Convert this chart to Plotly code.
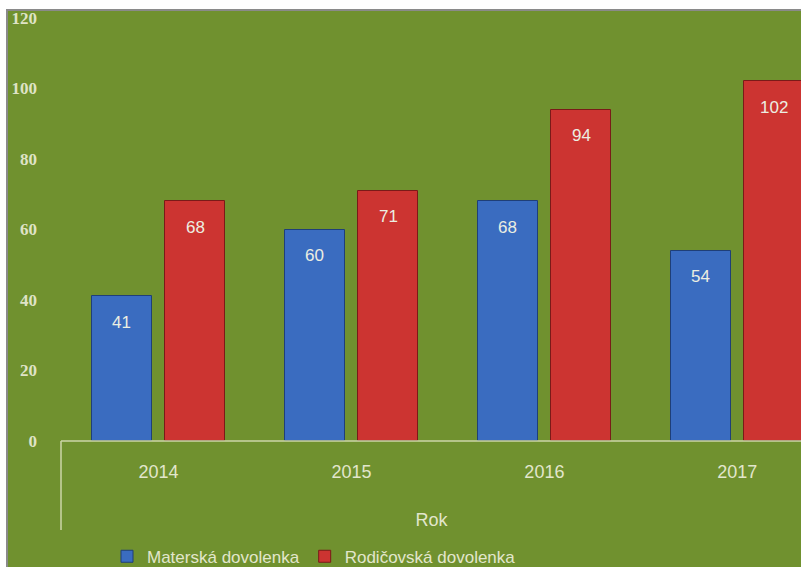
import plotly.graph_objects as go

years = ["2014", "2015", "2016", "2017"]
materska = [41, 60, 68, 54]
rodicovska = [68, 71, 94, 102]
series_names = ["Materská dovolenka", "Rodičovská dovolenka"]
y_ticks = [0, 20, 40, 60, 80, 100, 120]

GREEN = "#70912f"
BLUE = "#3a6cc0"
RED = "#cc3431"
PALE = "#e2e6cc"
SANS = "Liberation Sans, Arial, sans-serif"

fig = go.Figure()
fig.add_trace(go.Bar(
    x=years, y=materska, name=series_names[0],
    width=0.31, offset=-0.345,
    marker=dict(color=BLUE, line=dict(color="#1f3f78", width=1)),
    hoverinfo="x+y",
))
fig.add_trace(go.Bar(
    x=years, y=rodicovska, name=series_names[1],
    width=0.31, offset=0.035,
    marker=dict(color=RED, line=dict(color="#7a1a18", width=1)),
    hoverinfo="x+y",
))

annotations = []
for vals, shift in ((materska, -37), (rodicovska, 37)):
    for i, v in enumerate(vals):
        annotations.append(dict(
            x=i, y=v, xref="x", yref="y", text=str(v), showarrow=False,
            xshift=shift, yshift=-26,
            font=dict(family=SANS, size=17, color="#eceee2"),
        ))

shapes = [
    dict(type="rect", xref="paper", yref="paper",
         x0=-55/739, x1=1.01, y0=-0.4, y1=1 + 8/423,
         fillcolor=GREEN, line=dict(color="#8a8a8a", width=2), layer="below"),
    dict(type="line", xref="paper", yref="paper",
         x0=-1/739, x1=-1/739, y0=0, y1=-89/423,
         line=dict(color="#cdd6a8", width=1.5)),
    dict(type="line", xref="paper", yref="paper",
         x0=-1/739, x1=1, y0=0, y1=0,
         line=dict(color="#cdd6a8", width=1.5)),
]

fig.update_layout(
    width=801, height=567,
    margin=dict(l=62, r=0, t=18, b=126, autoexpand=False),
    paper_bgcolor="white",
    plot_bgcolor=GREEN,
    showlegend=True,
    legend=dict(
        orientation="h", x=45/739, xanchor="left", y=-0.231, yanchor="top",
        font=dict(family=SANS, size=17, color=PALE),
        bgcolor="rgba(0,0,0,0)",
        itemclick=False,
    ),
    xaxis=dict(
        type="category",
        range=[-0.5, 3.33], showgrid=False, zeroline=False, showline=False,
        ticks="", tickfont=dict(family=SANS, size=18, color=PALE),
        ticklabelstandoff=18, automargin=False,
        title=dict(text="Rok", standoff=32, font=dict(family=SANS, size=18, color=PALE)),
    ),
    yaxis=dict(
        range=[0, 120], tickvals=y_ticks, showgrid=False, zeroline=False, showline=False,
        ticks="", ticklabelstandoff=24, automargin=False,
        tickfont=dict(family="Liberation Serif, serif", size=17, color="#dfe3c6", weight="bold"),
    ),
    shapes=shapes,
    annotations=annotations,
    bargap=0, bargroupgap=0,
)

fig.write_html(
    "out.html",
    config={"displayModeBar": False},
    post_script="document.documentElement.style.margin='0';document.body.style.margin='0';document.body.style.overflow='hidden';",
)
